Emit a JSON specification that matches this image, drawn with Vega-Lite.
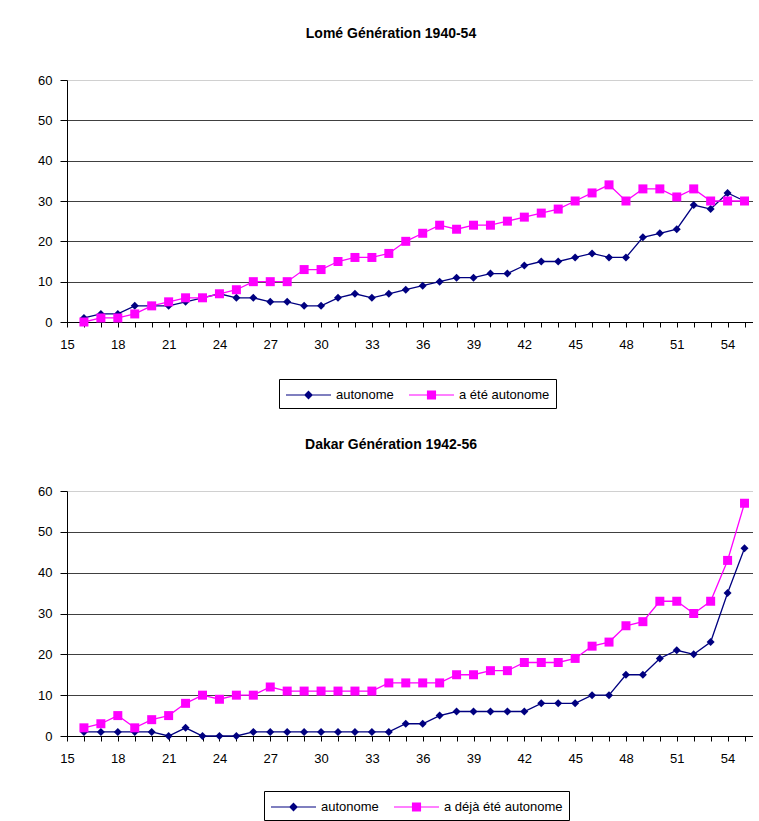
{
  "$schema": "https://vega.github.io/schema/vega-lite/v6.json",
  "background": "white",
  "padding": {"left": 37, "top": 27, "right": 0, "bottom": 0},
  "datasets": {
    "lome": [
      {"statut": "autonome", "age": 16, "n": 1}, {"statut": "autonome", "age": 17, "n": 2}, {"statut": "autonome", "age": 18, "n": 2}, {"statut": "autonome", "age": 19, "n": 4},
      {"statut": "autonome", "age": 20, "n": 4}, {"statut": "autonome", "age": 21, "n": 4}, {"statut": "autonome", "age": 22, "n": 5}, {"statut": "autonome", "age": 23, "n": 6},
      {"statut": "autonome", "age": 24, "n": 7}, {"statut": "autonome", "age": 25, "n": 6}, {"statut": "autonome", "age": 26, "n": 6}, {"statut": "autonome", "age": 27, "n": 5},
      {"statut": "autonome", "age": 28, "n": 5}, {"statut": "autonome", "age": 29, "n": 4}, {"statut": "autonome", "age": 30, "n": 4}, {"statut": "autonome", "age": 31, "n": 6},
      {"statut": "autonome", "age": 32, "n": 7}, {"statut": "autonome", "age": 33, "n": 6}, {"statut": "autonome", "age": 34, "n": 7}, {"statut": "autonome", "age": 35, "n": 8},
      {"statut": "autonome", "age": 36, "n": 9}, {"statut": "autonome", "age": 37, "n": 10}, {"statut": "autonome", "age": 38, "n": 11}, {"statut": "autonome", "age": 39, "n": 11},
      {"statut": "autonome", "age": 40, "n": 12}, {"statut": "autonome", "age": 41, "n": 12}, {"statut": "autonome", "age": 42, "n": 14}, {"statut": "autonome", "age": 43, "n": 15},
      {"statut": "autonome", "age": 44, "n": 15}, {"statut": "autonome", "age": 45, "n": 16}, {"statut": "autonome", "age": 46, "n": 17}, {"statut": "autonome", "age": 47, "n": 16},
      {"statut": "autonome", "age": 48, "n": 16}, {"statut": "autonome", "age": 49, "n": 21}, {"statut": "autonome", "age": 50, "n": 22}, {"statut": "autonome", "age": 51, "n": 23},
      {"statut": "autonome", "age": 52, "n": 29}, {"statut": "autonome", "age": 53, "n": 28}, {"statut": "autonome", "age": 54, "n": 32}, {"statut": "autonome", "age": 55, "n": 30},
      {"statut": "a été autonome", "age": 16, "n": 0}, {"statut": "a été autonome", "age": 17, "n": 1}, {"statut": "a été autonome", "age": 18, "n": 1}, {"statut": "a été autonome", "age": 19, "n": 2},
      {"statut": "a été autonome", "age": 20, "n": 4}, {"statut": "a été autonome", "age": 21, "n": 5}, {"statut": "a été autonome", "age": 22, "n": 6}, {"statut": "a été autonome", "age": 23, "n": 6},
      {"statut": "a été autonome", "age": 24, "n": 7}, {"statut": "a été autonome", "age": 25, "n": 8}, {"statut": "a été autonome", "age": 26, "n": 10}, {"statut": "a été autonome", "age": 27, "n": 10},
      {"statut": "a été autonome", "age": 28, "n": 10}, {"statut": "a été autonome", "age": 29, "n": 13}, {"statut": "a été autonome", "age": 30, "n": 13}, {"statut": "a été autonome", "age": 31, "n": 15},
      {"statut": "a été autonome", "age": 32, "n": 16}, {"statut": "a été autonome", "age": 33, "n": 16}, {"statut": "a été autonome", "age": 34, "n": 17}, {"statut": "a été autonome", "age": 35, "n": 20},
      {"statut": "a été autonome", "age": 36, "n": 22}, {"statut": "a été autonome", "age": 37, "n": 24}, {"statut": "a été autonome", "age": 38, "n": 23}, {"statut": "a été autonome", "age": 39, "n": 24},
      {"statut": "a été autonome", "age": 40, "n": 24}, {"statut": "a été autonome", "age": 41, "n": 25}, {"statut": "a été autonome", "age": 42, "n": 26}, {"statut": "a été autonome", "age": 43, "n": 27},
      {"statut": "a été autonome", "age": 44, "n": 28}, {"statut": "a été autonome", "age": 45, "n": 30}, {"statut": "a été autonome", "age": 46, "n": 32}, {"statut": "a été autonome", "age": 47, "n": 34},
      {"statut": "a été autonome", "age": 48, "n": 30}, {"statut": "a été autonome", "age": 49, "n": 33}, {"statut": "a été autonome", "age": 50, "n": 33}, {"statut": "a été autonome", "age": 51, "n": 31},
      {"statut": "a été autonome", "age": 52, "n": 33}, {"statut": "a été autonome", "age": 53, "n": 30}, {"statut": "a été autonome", "age": 54, "n": 30}, {"statut": "a été autonome", "age": 55, "n": 30}
    ],
    "dakar": [
      {"statut": "autonome", "age": 16, "n": 1}, {"statut": "autonome", "age": 17, "n": 1}, {"statut": "autonome", "age": 18, "n": 1}, {"statut": "autonome", "age": 19, "n": 1},
      {"statut": "autonome", "age": 20, "n": 1}, {"statut": "autonome", "age": 21, "n": 0}, {"statut": "autonome", "age": 22, "n": 2}, {"statut": "autonome", "age": 23, "n": 0},
      {"statut": "autonome", "age": 24, "n": 0}, {"statut": "autonome", "age": 25, "n": 0}, {"statut": "autonome", "age": 26, "n": 1}, {"statut": "autonome", "age": 27, "n": 1},
      {"statut": "autonome", "age": 28, "n": 1}, {"statut": "autonome", "age": 29, "n": 1}, {"statut": "autonome", "age": 30, "n": 1}, {"statut": "autonome", "age": 31, "n": 1},
      {"statut": "autonome", "age": 32, "n": 1}, {"statut": "autonome", "age": 33, "n": 1}, {"statut": "autonome", "age": 34, "n": 1}, {"statut": "autonome", "age": 35, "n": 3},
      {"statut": "autonome", "age": 36, "n": 3}, {"statut": "autonome", "age": 37, "n": 5}, {"statut": "autonome", "age": 38, "n": 6}, {"statut": "autonome", "age": 39, "n": 6},
      {"statut": "autonome", "age": 40, "n": 6}, {"statut": "autonome", "age": 41, "n": 6}, {"statut": "autonome", "age": 42, "n": 6}, {"statut": "autonome", "age": 43, "n": 8},
      {"statut": "autonome", "age": 44, "n": 8}, {"statut": "autonome", "age": 45, "n": 8}, {"statut": "autonome", "age": 46, "n": 10}, {"statut": "autonome", "age": 47, "n": 10},
      {"statut": "autonome", "age": 48, "n": 15}, {"statut": "autonome", "age": 49, "n": 15}, {"statut": "autonome", "age": 50, "n": 19}, {"statut": "autonome", "age": 51, "n": 21},
      {"statut": "autonome", "age": 52, "n": 20}, {"statut": "autonome", "age": 53, "n": 23}, {"statut": "autonome", "age": 54, "n": 35}, {"statut": "autonome", "age": 55, "n": 46},
      {"statut": "a déjà été autonome", "age": 16, "n": 2}, {"statut": "a déjà été autonome", "age": 17, "n": 3}, {"statut": "a déjà été autonome", "age": 18, "n": 5}, {"statut": "a déjà été autonome", "age": 19, "n": 2},
      {"statut": "a déjà été autonome", "age": 20, "n": 4}, {"statut": "a déjà été autonome", "age": 21, "n": 5}, {"statut": "a déjà été autonome", "age": 22, "n": 8}, {"statut": "a déjà été autonome", "age": 23, "n": 10},
      {"statut": "a déjà été autonome", "age": 24, "n": 9}, {"statut": "a déjà été autonome", "age": 25, "n": 10}, {"statut": "a déjà été autonome", "age": 26, "n": 10}, {"statut": "a déjà été autonome", "age": 27, "n": 12},
      {"statut": "a déjà été autonome", "age": 28, "n": 11}, {"statut": "a déjà été autonome", "age": 29, "n": 11}, {"statut": "a déjà été autonome", "age": 30, "n": 11}, {"statut": "a déjà été autonome", "age": 31, "n": 11},
      {"statut": "a déjà été autonome", "age": 32, "n": 11}, {"statut": "a déjà été autonome", "age": 33, "n": 11}, {"statut": "a déjà été autonome", "age": 34, "n": 13}, {"statut": "a déjà été autonome", "age": 35, "n": 13},
      {"statut": "a déjà été autonome", "age": 36, "n": 13}, {"statut": "a déjà été autonome", "age": 37, "n": 13}, {"statut": "a déjà été autonome", "age": 38, "n": 15}, {"statut": "a déjà été autonome", "age": 39, "n": 15},
      {"statut": "a déjà été autonome", "age": 40, "n": 16}, {"statut": "a déjà été autonome", "age": 41, "n": 16}, {"statut": "a déjà été autonome", "age": 42, "n": 18}, {"statut": "a déjà été autonome", "age": 43, "n": 18},
      {"statut": "a déjà été autonome", "age": 44, "n": 18}, {"statut": "a déjà été autonome", "age": 45, "n": 19}, {"statut": "a déjà été autonome", "age": 46, "n": 22}, {"statut": "a déjà été autonome", "age": 47, "n": 23},
      {"statut": "a déjà été autonome", "age": 48, "n": 27}, {"statut": "a déjà été autonome", "age": 49, "n": 28}, {"statut": "a déjà été autonome", "age": 50, "n": 33}, {"statut": "a déjà été autonome", "age": 51, "n": 33},
      {"statut": "a déjà été autonome", "age": 52, "n": 30}, {"statut": "a déjà été autonome", "age": 53, "n": 33}, {"statut": "a déjà été autonome", "age": 54, "n": 43}, {"statut": "a déjà été autonome", "age": 55, "n": 57}
    ]
  },
  "spacing": 29,
  "resolve": {"scale": {"color": "independent"}, "legend": {"color": "independent"}},
  "vconcat": [
    {
      "data": {"name": "lome"},
      "title": {"text": "Lomé Génération 1940-54", "dx": -19},
      "width": 686,
      "height": 242,
      "encoding": {
        "x": {"field": "age", "type": "quantitative", "title": null,
          "scale": {"domain": [15, 55.5], "nice": false, "zero": false},
          "axis": {"values": [15,16,17,18,19,20,21,22,23,24,25,26,27,28,29,30,31,32,33,34,35,36,37,38,39,40,41,42,43,44,45,46,47,48,49,50,51,52,53,54,55],
            "labelExpr": "datum.value % 3 === 0 ? datum.label : ''", "grid": false, "tickSize": 5, "labelPadding": 11, "labelFlush": false, "labelOverlap": false}},
        "y": {"field": "n", "type": "quantitative", "title": null,
          "scale": {"domain": [0, 60], "nice": false},
          "axis": {"values": [0,10,20,30,40,50,60], "grid": true, "tickSize": 7, "labelPadding": 8,
            "gridColor": {"condition": {"test": "datum.value === 60", "value": "#d0d0d0"}, "value": "#404040"}}},
        "color": {"field": "statut", "type": "nominal",
          "scale": {"domain": ["autonome", "a été autonome"], "range": ["#000080", "#FF00FF"]},
          "legend": {"orient": "none", "legendX": 212, "legendY": 299,
            "encode": {"symbols": {"update": {
              "shape": {"signal": "datum.value === 'autonome' ? 'M-1,0H4M1.5,-0.4L1.9,0L1.5,0.4L1.1,0Z' : 'M-1,0H4M1.06,-0.44H1.94V0.44H1.06Z'"},
              "fill": {"signal": "datum.value === 'autonome' ? '#000080' : '#FF00FF'"},
              "stroke": {"signal": "datum.value === 'autonome' ? '#000080' : '#FF00FF'"},
              "strokeWidth": {"value": 1.2},
              "size": {"value": 324},
              "opacity": {"value": 1}
            }}}
          }}
      },
      "layer": [
        {"mark": {"type": "line", "strokeWidth": 1.3}},
        {"transform": [{"filter": "datum.statut === 'autonome'"}],
          "mark": {"type": "point", "shape": "diamond", "size": 64, "filled": true, "opacity": 1, "strokeWidth": 0}},
        {"transform": [{"filter": "datum.statut !== 'autonome'"}],
          "mark": {"type": "point", "shape": "square", "size": 81, "filled": true, "opacity": 1, "strokeWidth": 0}}
      ]
    },
    {
      "data": {"name": "dakar"},
      "title": {"text": "Dakar Génération 1942-56", "dx": -19},
      "width": 686,
      "height": 245,
      "encoding": {
        "x": {"field": "age", "type": "quantitative", "title": null,
          "scale": {"domain": [15, 55.5], "nice": false, "zero": false},
          "axis": {"values": [15,16,17,18,19,20,21,22,23,24,25,26,27,28,29,30,31,32,33,34,35,36,37,38,39,40,41,42,43,44,45,46,47,48,49,50,51,52,53,54,55],
            "labelExpr": "datum.value % 3 === 0 ? datum.label : ''", "grid": false, "tickSize": 5, "labelPadding": 11, "labelFlush": false, "labelOverlap": false}},
        "y": {"field": "n", "type": "quantitative", "title": null,
          "scale": {"domain": [0, 60], "nice": false},
          "axis": {"values": [0,10,20,30,40,50,60], "grid": true, "tickSize": 7, "labelPadding": 8,
            "gridColor": {"condition": {"test": "datum.value === 60", "value": "#d0d0d0"}, "value": "#404040"}}},
        "color": {"field": "statut", "type": "nominal",
          "scale": {"domain": ["autonome", "a déjà été autonome"], "range": ["#000080", "#FF00FF"]},
          "legend": {"orient": "none", "legendX": 197, "legendY": 300,
            "encode": {"symbols": {"update": {
              "shape": {"signal": "datum.value === 'autonome' ? 'M-1,0H4M1.5,-0.4L1.9,0L1.5,0.4L1.1,0Z' : 'M-1,0H4M1.06,-0.44H1.94V0.44H1.06Z'"},
              "fill": {"signal": "datum.value === 'autonome' ? '#000080' : '#FF00FF'"},
              "stroke": {"signal": "datum.value === 'autonome' ? '#000080' : '#FF00FF'"},
              "strokeWidth": {"value": 1.2},
              "size": {"value": 324},
              "opacity": {"value": 1}
            }}}
          }}
      },
      "layer": [
        {"mark": {"type": "line", "strokeWidth": 1.3}},
        {"transform": [{"filter": "datum.statut === 'autonome'"}],
          "mark": {"type": "point", "shape": "diamond", "size": 64, "filled": true, "opacity": 1, "strokeWidth": 0}},
        {"transform": [{"filter": "datum.statut !== 'autonome'"}],
          "mark": {"type": "point", "shape": "square", "size": 81, "filled": true, "opacity": 1, "strokeWidth": 0}}
      ]
    }
  ],
  "config": {
    "font": "Liberation Sans",
    "view": {"stroke": null},
    "title": {"fontSize": 14, "fontWeight": "bold", "color": "#000000", "offset": 33, "anchor": "middle", "font": "Liberation Sans"},
    "axis": {"labelFont": "Liberation Sans", "labelFontSize": 13, "labelColor": "#000000", "domainColor": "#000000", "tickColor": "#000000", "domainWidth": 1, "tickWidth": 1, "gridWidth": 1},
    "legend": {"direction": "horizontal", "title": null, "strokeColor": "#000000", "fillColor": "#ffffff", "padding": 6,
      "labelFont": "Liberation Sans", "labelFontSize": 13, "labelColor": "#000000", "symbolSize": 324, "labelOffset": 31, "columnPadding": 12}
  }
}
